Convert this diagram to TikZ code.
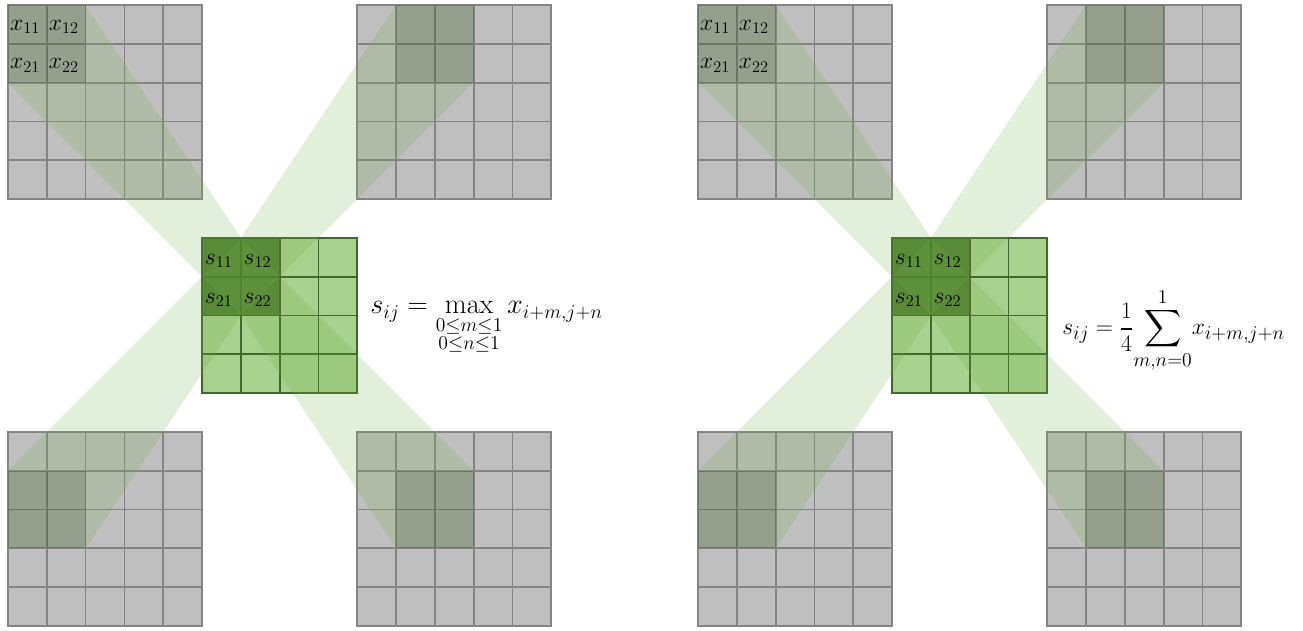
\documentclass[tikz,border=0pt]{standalone}
\usepackage{amsmath,amssymb}
\usepackage{xcolor}
\usepackage{tikz}
\usetikzlibrary{positioning}

\definecolor{poolgrey}{HTML}{BFBFBF}
\definecolor{lightgreen}{HTML}{A9D18E}
\definecolor{darkgreen}{HTML}{548235}
\definecolor{edgegreen}{HTML}{41672A}
\definecolor{beamgreen}{HTML}{70AD47}

\begin{document}
\begin{tikzpicture}[
    cell/.style={fill=poolgrey, draw=black!48, line width=1.3pt},
    outcell/.style={fill=lightgreen, draw=edgegreen, line width=1.3pt},
    hitcell/.style={fill=darkgreen, draw=edgegreen, line width=1.3pt},
    beam/.style={fill=beamgreen, fill opacity=0.2},
    window/.style={fill=black, fill opacity=0.15},
    lbl/.style={font=\fontsize{16.5}{19}\selectfont, inner sep=0pt},
    eq/.style={font=\fontsize{21}{25}\selectfont, inner sep=0pt, anchor=base west},
  ]
    \useasboundingbox (-0.206,0.129) rectangle (33.37,-16.11);

    \foreach \px/\pn in {0/a, 17.78/b} {
      \begin{scope}[xshift=\px cm]
        % input maps
        \foreach \gx/\gy in {0/0, 9/0, 0/-11, 9/-11}
          \foreach \i in {0,...,4}
            \foreach \j in {0,...,4}
              \draw[cell] (\gx+\i,\gy-\j) rectangle ++(1,-1);
        % pooled map
        \foreach \i in {0,...,3}
          \foreach \j in {0,...,3}
            \draw[outcell] (5+\i,-6-\j) rectangle ++(1,-1);
        \foreach \i in {0,1}
          \foreach \j in {0,1}
            \draw[hitcell] (5+\i,-6-\j) rectangle ++(1,-1);
        \coordinate (top-\pn) at (6,-6);
        \coordinate (bot-\pn) at (6,-8);
        % beams
        \fill[beam] (0,0) -- (2,0) -- (top-\pn) -- (bot-\pn) -- (0,-2) -- cycle;
        \fill[beam] (10,0) -- (12,0) -- (12,-2) -- (bot-\pn) -- (top-\pn) -- cycle;
        \fill[beam] (0,-12) -- (top-\pn) -- (bot-\pn) -- (2,-14) -- (0,-14) -- cycle;
        \fill[beam] (top-\pn) -- (12,-12) -- (12,-14) -- (10,-14) -- (bot-\pn) -- cycle;
        % windows
        \foreach \wx/\wy in {0/0, 10/0, 0/-12, 10/-12}
          \fill[window] (\wx,\wy) rectangle ++(2,-2);
        % labels
        \foreach \r in {1,2}
          \foreach \c in {1,2} {
            \node[lbl] (x\r\c-\pn) at (\c-0.56,-\r+0.44) {$x_{\r\c}$};
            \node[lbl] (s\r\c-\pn) at (4.43+\c,-5.6-\r) {$s_{\r\c}$};
          }
      \end{scope}
    }

    \node[eq] (maxpool) at (9.33,-7.96)
      {$\displaystyle s_{ij} = \max_{\substack{0\le m\le 1\\ 0\le n\le 1}} x_{i+m,j+n}$};
    \node[eq, font=\fontsize{19}{23}\selectfont] (avgpool) at (27.16,-8.5)
      {$\displaystyle s_{ij} = \frac{1}{4}\!\sum_{m,n=0}^{1}\! x_{i+m,j+n}$};
\end{tikzpicture}
\end{document}
